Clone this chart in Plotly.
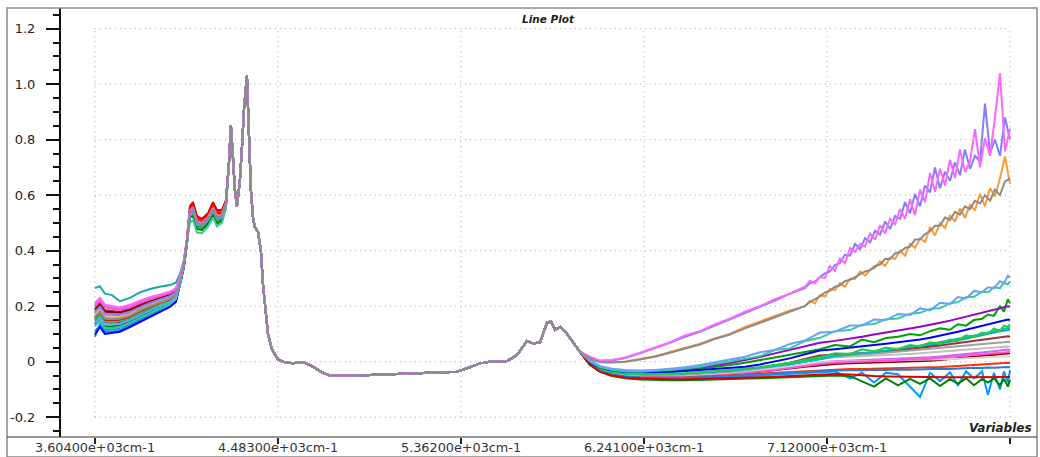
import plotly.graph_objects as go

# ---------------- data ----------------
# wavenumber grid, cm-1
wn_left = [3604, 3628, 3652, 3686, 3724, 3772, 3820, 3868, 3916, 3964, 3993, 4012,
           4031, 4046, 4060, 4075, 4094, 4118, 4147, 4171, 4190, 4214, 4233]
wn_mid = [4248, 4257, 4267, 4276, 4286, 4300, 4310, 4320, 4334, 4344, 4353, 4363,
          4372, 4387, 4401, 4411, 4421, 4435, 4454, 4483, 4517, 4555, 4603, 4651,
          4699, 4733, 4862, 5021, 5179, 5343, 5405, 5453, 5501, 5583, 5631, 5679,
          5708, 5742, 5775, 5794, 5814, 5838, 5862, 5895, 5934]
wn_right = [5982, 6030, 6087, 6150, 6222, 6294, 6366, 6438, 6510, 6582, 6654, 6726,
            6798, 6870, 6942, 7014, 7086, 7158, 7231, 7288, 7346, 7403, 7461, 7519,
            7567, 7615, 7663, 7711, 7749, 7788, 7826, 7865, 7893, 7922, 7951, 7970,
            7989, 7999]
# finer grid used for the four very noisy spectra at the high end
wn_right_fine = [5982, 6030, 6087, 6150, 6222, 6294, 6366, 6438, 6510, 6582, 6654, 6726,
                 6798, 6870, 6942,
                 7014, 7038, 7062, 7086, 7110, 7134, 7158, 7182, 7206, 7231, 7255, 7279,
                 7303, 7327, 7351, 7375, 7399, 7423, 7447, 7471, 7495, 7519, 7543, 7567,
                 7591, 7615, 7639, 7663, 7687, 7711, 7735, 7759, 7783, 7807, 7831, 7855,
                 7879, 7903, 7927, 7951, 7975, 7999]

# section where all spectra overlap
mid_common = [0.72, 0.853, 0.74, 0.62, 0.56, 0.65, 0.77, 0.91, 1.03, 0.82, 0.62, 0.52,
              0.485, 0.468, 0.40, 0.28, 0.21, 0.10, 0.045, 0.008, -0.003, -0.006, -0.001, -0.018,
              -0.04, -0.05, -0.05, -0.045, -0.04, -0.036, -0.02, -0.006, 0.0, 0.002, 0.024, 0.075,
              0.066, 0.07, 0.14, 0.145, 0.115, 0.125, 0.11, 0.075, 0.035]

teal_left = [0.265, 0.272, 0.245, 0.240, 0.218, 0.230, 0.250, 0.262, 0.270, 0.276, 0.285, 0.315, 0.365, 0.440, 0.540, 0.552, 0.502, 0.497, 0.515, 0.552, 0.522, 0.527, 0.572]
teal_right = [-0.005, -0.028, -0.04, -0.045, -0.047, -0.047, -0.046, -0.044, -0.041, -0.038, -0.035, -0.03, -0.025, -0.018, -0.01, 0.0, 0.01, 0.018, 0.022, 0.026, 0.03, 0.035, 0.04, 0.046, 0.052, 0.058, 0.064, 0.07, 0.077, 0.083, 0.09, 0.096, 0.1, 0.105, 0.11, 0.112, 0.116, 0.115]

violet_left = [0.205, 0.225, 0.200, 0.195, 0.190, 0.200, 0.215, 0.228, 0.240, 0.250, 0.262, 0.300, 0.360, 0.440, 0.540, 0.552, 0.500, 0.495, 0.515, 0.550, 0.520, 0.525, 0.570]
violet_right = [-0.008, -0.032, -0.045, -0.051, -0.054, -0.055, -0.055, -0.054, -0.052, -0.049, -0.045, -0.04, -0.034, -0.027, -0.019, -0.01, -0.002, 0.002, 0.004, 0.006, 0.008, 0.009, 0.011, 0.012, 0.013, 0.016, 0.019, 0.022, 0.025, 0.028, 0.031, 0.034, 0.036, 0.038, 0.04, 0.042, 0.044, 0.042]

brown_left = [0.190, 0.212, 0.185, 0.182, 0.180, 0.190, 0.207, 0.220, 0.232, 0.243, 0.255, 0.298, 0.358, 0.438, 0.542, 0.560, 0.512, 0.505, 0.525, 0.562, 0.532, 0.535, 0.575]
brown_right = [-0.006, -0.03, -0.042, -0.047, -0.05, -0.05, -0.049, -0.047, -0.044, -0.04, -0.035, -0.03, -0.022, -0.014, -0.004, 0.01, 0.022, 0.026, 0.028, 0.03, 0.033, 0.037, 0.041, 0.046, 0.05, 0.054, 0.058, 0.063, 0.067, 0.071, 0.075, 0.079, 0.082, 0.085, 0.088, 0.09, 0.092, 0.09]

darkred_left = [0.185, 0.205, 0.180, 0.178, 0.176, 0.186, 0.202, 0.216, 0.228, 0.240, 0.252, 0.296, 0.356, 0.438, 0.545, 0.565, 0.518, 0.510, 0.528, 0.565, 0.538, 0.540, 0.577]
darkred_right = [-0.009, -0.033, -0.046, -0.053, -0.056, -0.057, -0.057, -0.056, -0.054, -0.051, -0.047, -0.042, -0.037, -0.031, -0.025, -0.018, -0.012, -0.008, -0.006, -0.005, -0.004, -0.003, -0.002, -0.001, 0.0, 0.003, 0.006, 0.009, 0.012, 0.015, 0.018, 0.021, 0.023, 0.025, 0.027, 0.029, 0.031, 0.03]

green_left = [0.175, 0.195, 0.170, 0.168, 0.168, 0.176, 0.194, 0.208, 0.220, 0.232, 0.247, 0.292, 0.353, 0.435, 0.535, 0.540, 0.490, 0.485, 0.505, 0.540, 0.510, 0.515, 0.565]
green_right = [-0.005, -0.025, -0.035, -0.04, -0.042, -0.04, -0.036, -0.032, -0.026, -0.02, -0.012, -0.004, 0.005, 0.015, 0.025, 0.035, 0.045, 0.06, 0.055, 0.08, 0.07, 0.085, 0.09, 0.1, 0.095, 0.11, 0.12, 0.115, 0.135, 0.13, 0.15, 0.155, 0.17, 0.165, 0.2, 0.18, 0.225, 0.21]

ltgray_left = [0.170, 0.190, 0.165, 0.163, 0.163, 0.172, 0.190, 0.205, 0.218, 0.230, 0.245, 0.290, 0.352, 0.435, 0.540, 0.550, 0.500, 0.495, 0.515, 0.550, 0.520, 0.525, 0.570]
ltgray_right = [-0.007, -0.031, -0.044, -0.05, -0.052, -0.053, -0.052, -0.05, -0.047, -0.043, -0.038, -0.032, -0.025, -0.017, -0.008, 0.003, 0.012, 0.016, 0.018, 0.02, 0.022, 0.024, 0.026, 0.028, 0.03, 0.033, 0.036, 0.039, 0.041, 0.043, 0.045, 0.047, 0.049, 0.05, 0.052, 0.053, 0.055, 0.053]

gray2_left = [0.175, 0.196, 0.17, 0.168, 0.167, 0.177, 0.195, 0.21, 0.222, 0.234, 0.248, 0.293, 0.354, 0.436, 0.54, 0.55, 0.5, 0.495, 0.515, 0.55, 0.52, 0.525, 0.57]
gray2_right = [-0.007, -0.031, -0.043, -0.049, -0.051, -0.051, -0.05, -0.048, -0.045, -0.041, -0.036, -0.031, -0.024, -0.016, -0.007, 0.004, 0.015, 0.02, 0.024, 0.027, 0.029, 0.033, 0.035, 0.04, 0.042, 0.046, 0.049, 0.053, 0.055, 0.058, 0.06, 0.063, 0.065, 0.067, 0.069, 0.07, 0.072, 0.07]

gray3_left = [0.168, 0.188, 0.163, 0.161, 0.162, 0.171, 0.189, 0.204, 0.217, 0.229, 0.244, 0.29, 0.352, 0.435, 0.54, 0.55, 0.5, 0.495, 0.515, 0.55, 0.52, 0.525, 0.57]
gray3_right = [-0.008, -0.032, -0.045, -0.05, -0.053, -0.054, -0.054, -0.053, -0.051, -0.048, -0.044, -0.039, -0.033, -0.026, -0.018, -0.009, -0.002, 0.0, 0.001, 0.002, 0.003, 0.004, 0.005, 0.006, 0.007, 0.008, 0.009, 0.01, 0.011, 0.012, 0.013, 0.015, 0.016, 0.017, 0.018, 0.019, 0.02, 0.019]

pink2_left = [0.2, 0.22, 0.195, 0.19, 0.186, 0.196, 0.212, 0.225, 0.237, 0.247, 0.26, 0.3, 0.36, 0.44, 0.542, 0.555, 0.505, 0.5, 0.518, 0.553, 0.523, 0.528, 0.572]
pink2_right = [-0.009, -0.033, -0.046, -0.052, -0.055, -0.056, -0.056, -0.055, -0.053, -0.05, -0.046, -0.041, -0.036, -0.03, -0.023, -0.015, -0.008, -0.004, -0.002, 0.0, 0.002, 0.003, 0.005, 0.007, 0.008, 0.011, 0.014, 0.017, 0.02, 0.022, 0.025, 0.027, 0.029, 0.031, 0.033, 0.034, 0.036, 0.035]

redorange_left = [0.155, 0.172, 0.148, 0.147, 0.150, 0.160, 0.178, 0.195, 0.209, 0.222, 0.238, 0.286, 0.350, 0.436, 0.552, 0.568, 0.518, 0.510, 0.530, 0.568, 0.540, 0.542, 0.578]
redorange_right = [-0.01, -0.034, -0.047, -0.054, -0.057, -0.058, -0.058, -0.057, -0.055, -0.053, -0.05, -0.047, -0.043, -0.04, -0.037, -0.033, -0.03, -0.027, -0.026, -0.026, -0.025, -0.025, -0.024, -0.024, -0.023, -0.021, -0.019, -0.017, -0.015, -0.013, -0.011, -0.009, -0.008, -0.007, -0.006, -0.005, -0.004, -0.005]

steel_left = [0.11, 0.13, 0.108, 0.108, 0.114, 0.13, 0.148, 0.166, 0.184, 0.2, 0.218, 0.274, 0.341, 0.427, 0.535, 0.548, 0.5, 0.495, 0.515, 0.55, 0.52, 0.525, 0.57]
steel_right = [-0.01, -0.034, -0.047, -0.054, -0.057, -0.058, -0.058, -0.058, -0.056, -0.054, -0.052, -0.049, -0.046, -0.043, -0.04, -0.037, -0.034, -0.031, -0.03, -0.031, -0.029, -0.03, -0.028, -0.029, -0.027, -0.027, -0.025, -0.026, -0.024, -0.024, -0.022, -0.023, -0.021, -0.022, -0.02, -0.021, -0.019, -0.02]

purple_left = [0.148, 0.165, 0.142, 0.140, 0.143, 0.155, 0.173, 0.190, 0.205, 0.218, 0.235, 0.284, 0.348, 0.432, 0.540, 0.552, 0.505, 0.500, 0.518, 0.552, 0.524, 0.528, 0.572]
purple_right = [0.0, -0.02, -0.03, -0.034, -0.035, -0.033, -0.03, -0.026, -0.02, -0.013, -0.005, 0.005, 0.017, 0.03, 0.043, 0.056, 0.068, 0.075, 0.082, 0.09, 0.098, 0.106, 0.113, 0.12, 0.126, 0.132, 0.14, 0.148, 0.155, 0.162, 0.17, 0.176, 0.182, 0.188, 0.192, 0.196, 0.2, 0.198]

cyan_left = [0.13, 0.15, 0.127, 0.125, 0.13, 0.143, 0.16, 0.178, 0.194, 0.208, 0.226, 0.279, 0.345, 0.43, 0.538, 0.55, 0.5, 0.494, 0.514, 0.55, 0.52, 0.525, 0.57]
cyan_right = [-0.004, -0.027, -0.039, -0.044, -0.046, -0.046, -0.045, -0.043, -0.04, -0.036, -0.033, -0.028, -0.023, -0.016, -0.008, 0.002, 0.012, 0.02, 0.026, 0.03, 0.036, 0.04, 0.047, 0.052, 0.058, 0.064, 0.07, 0.076, 0.082, 0.088, 0.094, 0.1, 0.104, 0.11, 0.114, 0.118, 0.122, 0.12]

lime_left = [0.15, 0.168, 0.145, 0.143, 0.146, 0.157, 0.175, 0.192, 0.206, 0.22, 0.236, 0.285, 0.348, 0.432, 0.52, 0.53, 0.482, 0.478, 0.5, 0.535, 0.5, 0.51, 0.558]
lime_right = [-0.004, -0.026, -0.038, -0.043, -0.045, -0.045, -0.044, -0.042, -0.038, -0.034, -0.03, -0.025, -0.019, -0.012, -0.004, 0.006, 0.016, 0.03, 0.028, 0.045, 0.038, 0.05, 0.046, 0.06, 0.055, 0.07, 0.066, 0.08, 0.075, 0.095, 0.088, 0.105, 0.1, 0.12, 0.11, 0.13, 0.125, 0.135]

skyblue_left = [0.090, 0.135, 0.115, 0.115, 0.122, 0.136, 0.154, 0.172, 0.189, 0.204, 0.222, 0.276, 0.342, 0.428, 0.530, 0.545, 0.498, 0.492, 0.512, 0.548, 0.518, 0.523, 0.568]
skyblue_right = [-0.01, -0.035, -0.048, -0.055, -0.058, -0.06, -0.062, -0.06, -0.066, -0.058, -0.055, -0.052, -0.05, -0.047, -0.045, -0.042, -0.038, -0.035, -0.06, -0.04, -0.075, -0.04, -0.045, -0.09, -0.127, -0.04, -0.07, -0.038, -0.085, -0.035, -0.06, -0.035, -0.12, -0.04, -0.1, -0.035, -0.075, -0.03]

darkgreen_left = [0.135, 0.152, 0.128, 0.127, 0.132, 0.145, 0.163, 0.180, 0.196, 0.210, 0.228, 0.280, 0.345, 0.430, 0.520, 0.525, 0.478, 0.475, 0.497, 0.530, 0.497, 0.508, 0.556]
darkgreen_right = [-0.012, -0.037, -0.052, -0.06, -0.064, -0.066, -0.067, -0.067, -0.066, -0.065, -0.064, -0.062, -0.06, -0.058, -0.056, -0.055, -0.053, -0.05, -0.052, -0.07, -0.09, -0.06, -0.085, -0.062, -0.08, -0.06, -0.088, -0.062, -0.08, -0.06, -0.085, -0.062, -0.075, -0.06, -0.085, -0.062, -0.09, -0.065]

crimson_left = [0.158, 0.178, 0.152, 0.150, 0.152, 0.163, 0.182, 0.198, 0.212, 0.225, 0.240, 0.288, 0.352, 0.440, 0.560, 0.575, 0.525, 0.515, 0.535, 0.575, 0.547, 0.547, 0.580]
crimson_right = [-0.011, -0.036, -0.05, -0.057, -0.06, -0.062, -0.063, -0.063, -0.062, -0.061, -0.06, -0.058, -0.056, -0.054, -0.052, -0.05, -0.048, -0.044, -0.046, -0.05, -0.052, -0.053, -0.054, -0.055, -0.055, -0.056, -0.056, -0.056, -0.056, -0.056, -0.056, -0.056, -0.055, -0.055, -0.055, -0.055, -0.056, -0.055]

blue_left = [0.098, 0.125, 0.100, 0.103, 0.108, 0.125, 0.143, 0.160, 0.178, 0.197, 0.215, 0.272, 0.340, 0.426, 0.535, 0.548, 0.500, 0.495, 0.515, 0.550, 0.520, 0.525, 0.570]
blue_right = [-0.003, -0.022, -0.032, -0.036, -0.037, -0.037, -0.036, -0.034, -0.03, -0.026, -0.022, -0.018, -0.01, 0.0, 0.012, 0.027, 0.04, 0.045, 0.05, 0.055, 0.06, 0.065, 0.07, 0.075, 0.08, 0.086, 0.093, 0.1, 0.108, 0.115, 0.122, 0.128, 0.134, 0.139, 0.144, 0.147, 0.152, 0.15]

aqua_left = [0.128, 0.148, 0.122, 0.120, 0.126, 0.140, 0.158, 0.176, 0.192, 0.207, 0.225, 0.278, 0.344, 0.428, 0.500, 0.510, 0.465, 0.463, 0.487, 0.520, 0.487, 0.500, 0.550]
aqua_right = [0.0, -0.02, -0.03, -0.035, -0.036, -0.034, -0.03, -0.025, -0.018, -0.008, 0.002, 0.012, 0.02, 0.042, 0.048, 0.074, 0.086, 0.11, 0.114, 0.133, 0.136, 0.153, 0.156, 0.173, 0.176, 0.19, 0.193, 0.21, 0.215, 0.232, 0.234, 0.252, 0.25, 0.268, 0.265, 0.285, 0.278, 0.29]

ltblue_left = [0.140, 0.158, 0.135, 0.133, 0.137, 0.150, 0.168, 0.185, 0.200, 0.214, 0.232, 0.282, 0.346, 0.430, 0.535, 0.545, 0.495, 0.490, 0.510, 0.545, 0.515, 0.520, 0.566]
ltblue_right = [0.005, -0.015, -0.025, -0.03, -0.032, -0.03, -0.025, -0.02, -0.012, -0.002, 0.008, 0.018, 0.034, 0.042, 0.064, 0.076, 0.105, 0.108, 0.13, 0.13, 0.152, 0.15, 0.172, 0.168, 0.192, 0.185, 0.212, 0.208, 0.233, 0.228, 0.255, 0.25, 0.268, 0.265, 0.29, 0.282, 0.31, 0.305]

# four spectra that rise strongly (on the finer grid)
orange_left = [0.165, 0.185, 0.160, 0.158, 0.160, 0.170, 0.188, 0.203, 0.216, 0.228, 0.243, 0.290, 0.352, 0.434, 0.540, 0.555, 0.505, 0.500, 0.520, 0.555, 0.525, 0.530, 0.572]
orange_right = [0.012, 0.0, -0.002, 0.0, 0.01, 0.02, 0.035, 0.05, 0.065, 0.085, 0.1, 0.125, 0.145, 0.165, 0.185,
                0.2, 0.22, 0.21, 0.24, 0.235, 0.262, 0.258, 0.283, 0.27, 0.30, 0.298, 0.325, 0.31, 0.33,
                0.338, 0.362, 0.345, 0.375, 0.37, 0.40, 0.382, 0.425, 0.41, 0.445, 0.432, 0.485, 0.455, 0.50,
                0.482, 0.528, 0.505, 0.553, 0.518, 0.565, 0.545, 0.605, 0.56, 0.625, 0.595, 0.66, 0.74, 0.64]

lavender_left = [0.180, 0.198, 0.172, 0.170, 0.170, 0.180, 0.197, 0.212, 0.224, 0.236, 0.250, 0.295, 0.355, 0.436, 0.540, 0.550, 0.500, 0.492, 0.512, 0.548, 0.518, 0.522, 0.568]
lavender_right = [0.016, 0.002, 0.004, 0.013, 0.03, 0.048, 0.068, 0.09, 0.108, 0.13, 0.152, 0.176, 0.198, 0.22, 0.245,
                  0.265, 0.283, 0.288, 0.305, 0.318, 0.325, 0.348, 0.355, 0.385, 0.382, 0.425, 0.405, 0.445, 0.43,
                  0.472, 0.458, 0.505, 0.478, 0.525, 0.515, 0.575, 0.535, 0.605, 0.56, 0.635, 0.61, 0.70, 0.625,
                  0.685, 0.652, 0.718, 0.672, 0.765, 0.695, 0.742, 0.72, 0.93, 0.752, 0.80, 0.742, 0.88, 0.80]

pink_left = [0.212, 0.230, 0.205, 0.200, 0.195, 0.205, 0.220, 0.232, 0.243, 0.252, 0.265, 0.305, 0.362, 0.442, 0.545, 0.555, 0.505, 0.498, 0.518, 0.553, 0.524, 0.528, 0.573]
pink_right = [0.018, 0.004, 0.006, 0.015, 0.032, 0.05, 0.07, 0.095, 0.11, 0.135, 0.155, 0.18, 0.2, 0.225, 0.245,
              0.27, 0.292, 0.282, 0.305, 0.302, 0.345, 0.328, 0.372, 0.355, 0.41, 0.395, 0.425, 0.415, 0.462,
              0.44, 0.492, 0.462, 0.515, 0.495, 0.55, 0.515, 0.585, 0.528, 0.62, 0.575, 0.68, 0.612, 0.695,
              0.635, 0.728, 0.662, 0.765, 0.683, 0.722, 0.838, 0.70, 0.805, 0.742, 0.88, 1.04, 0.758, 0.84]

gray_left = [0.160, 0.180, 0.155, 0.153, 0.155, 0.165, 0.184, 0.200, 0.213, 0.226, 0.241, 0.288, 0.350, 0.433, 0.540, 0.550, 0.500, 0.495, 0.515, 0.550, 0.520, 0.525, 0.570]
gray_right = [0.01, -0.002, -0.003, 0.0, 0.008, 0.018, 0.032, 0.048, 0.062, 0.082, 0.098, 0.12, 0.14, 0.16, 0.18,
              0.2, 0.215, 0.225, 0.235, 0.25, 0.255, 0.27, 0.275, 0.29, 0.295, 0.305, 0.315, 0.325, 0.33,
              0.345, 0.35, 0.37, 0.37, 0.39, 0.395, 0.41, 0.415, 0.44, 0.44, 0.46, 0.47, 0.49, 0.49,
              0.52, 0.51, 0.54, 0.53, 0.56, 0.55, 0.58, 0.57, 0.60, 0.58, 0.62, 0.60, 0.65, 0.66]

# drawing order, colours and which right-hand grid each spectrum uses
spectra = [
    ("teal", "#1aa5a8", teal_left, teal_right, wn_right),
    ("violet", "#cc66ff", violet_left, violet_right, wn_right),
    ("brown", "#993333", brown_left, brown_right, wn_right),
    ("dark red", "#8b0000", darkred_left, darkred_right, wn_right),
    ("green", "#00a000", green_left, green_right, wn_right),
    ("light gray", "#c0c0c0", ltgray_left, ltgray_right, wn_right),
    ("gray 2", "#a0a0a0", gray2_left, gray2_right, wn_right),
    ("gray 3", "#d4d4d4", gray3_left, gray3_right, wn_right),
    ("pink 2", "#ff55cc", pink2_left, pink2_right, wn_right),
    ("red orange", "#ff3300", redorange_left, redorange_right, wn_right),
    ("steel blue", "#3377dd", steel_left, steel_right, wn_right),
    ("purple", "#9900cc", purple_left, purple_right, wn_right),
    ("cyan", "#00bbcc", cyan_left, cyan_right, wn_right),
    ("lime", "#22cc44", lime_left, lime_right, wn_right),
    ("sky blue", "#0099ff", skyblue_left, skyblue_right, wn_right),
    ("dark green", "#008000", darkgreen_left, darkgreen_right, wn_right),
    ("crimson", "#e00000", crimson_left, crimson_right, wn_right),
    ("blue", "#0000ff", blue_left, blue_right, wn_right),
    ("aqua", "#33cc99", aqua_left, aqua_right, wn_right),
    ("light blue", "#66a3ff", ltblue_left, ltblue_right, wn_right),
    ("orange", "#ff9933", orange_left, orange_right, wn_right_fine),
    ("lavender", "#8080ff", lavender_left, lavender_right, wn_right_fine),
    ("pink", "#ff66ff", pink_left, pink_right, wn_right_fine),
    ("gray", "#8c8c8c", gray_left, gray_right, wn_right_fine),
]

x_tickvals = [3604, 4483, 5362, 6241, 7120, 7999]
x_ticktext = ["3.60400e+03cm-1", "4.48300e+03cm-1", "5.36200e+03cm-1",
              "6.24100e+03cm-1", "7.12000e+03cm-1", ""]
y_tickvals = [-0.2, 0, 0.2, 0.4, 0.6, 0.8, 1.0, 1.2]
y_ticktext = ["-0.2", "0", "0.2", "0.4", "0.6", "0.8", "1.0", "1.2"]

# ---------------- figure ----------------
W, H = 1040, 457
ML, MR, MT, MB = 61, 4, 8, 20
PW, PH = W - ML - MR, H - MT - MB

fig = go.Figure()
for name, color, left, right, xr in spectra:
    assert len(left) == len(wn_left) and len(right) == len(xr), name
    fig.add_trace(go.Scatter(x=wn_left + wn_mid + xr, y=left + mid_common + right,
                             mode="lines", name=name,
                             line=dict(color=color, width=2),
                             hoverinfo="skip", showlegend=False))

shapes = []
grid = dict(color="#a8a8a8", width=1, dash="1px,4px")
for xv in x_tickvals:
    shapes.append(dict(type="line", xref="x", yref="y", x0=xv, x1=xv,
                       y0=y_tickvals[0], y1=y_tickvals[-1], line=grid, layer="below"))
for yv in y_tickvals:
    shapes.append(dict(type="line", xref="x", yref="y", x0=x_tickvals[0], x1=x_tickvals[-1],
                       y0=yv, y1=yv, line=grid, layer="below"))
# outer frame
shapes.append(dict(type="rect", xref="paper", yref="paper",
                   x0=(7 - ML) / PW, x1=(1037 - ML) / PW, y0=-MB / PH, y1=1.0,
                   line=dict(color="#8a8a8a", width=1.5), layer="above"))
# x axis line spanning whole width
shapes.append(dict(type="line", xref="paper", yref="paper",
                   x0=(7 - ML) / PW, x1=(1037 - ML) / PW, y0=0, y1=0,
                   line=dict(color="#333333", width=1.2), layer="above"))

tick_font = "DejaVu Sans, Verdana, sans-serif"

annotations = [
    dict(text="<b><i>Line Plot</i></b>", xref="paper", yref="paper",
         x=(548 - ML) / PW, y=(MT + PH - 19) / PH, xanchor="center", yanchor="middle",
         showarrow=False, font=dict(size=10.5, color="#222222", family=tick_font)),
    dict(text="<b><i>Variables</i></b>", xref="paper", yref="paper",
         x=(1034 - ML) / PW, y=(MT + PH - 428) / PH, xanchor="right", yanchor="middle",
         showarrow=False, font=dict(size=12, color="#222222", family=tick_font)),
]
# x tick labels placed just below the axis (as in the reference, where they sit low)
for xv, txt in zip(x_tickvals, x_ticktext):
    if txt:
        annotations.append(dict(text=txt, xref="x", yref="paper", x=xv,
                                y=(MT + PH - 448) / PH, xanchor="center", yanchor="middle",
                                showarrow=False,
                                font=dict(size=12.8, color="#333333", family=tick_font)))

fig.update_layout(
    width=W, height=H,
    margin=dict(l=ML, r=MR, t=MT, b=MB, pad=0, autoexpand=False),
    paper_bgcolor="white", plot_bgcolor="white",
    shapes=shapes,
    font=dict(family=tick_font, color="#222222"),
    xaxis=dict(range=[3441, 8124], showgrid=False, zeroline=False, automargin=False,
               tickvals=x_tickvals, showticklabels=False,
               ticks="outside", ticklen=6, tickwidth=2, tickcolor="#222222",
               showline=False),
    yaxis=dict(range=[-0.2714, 1.2746], showgrid=False, zeroline=False, automargin=False,
               tickvals=y_tickvals, ticktext=y_ticktext,
               ticks="outside", ticklen=13, tickwidth=2, tickcolor="#111111",
               ticklabelstandoff=8,
               tickfont=dict(size=13, color="#222222", family=tick_font),
               showline=True, linewidth=2, linecolor="#111111",
               minor=dict(dtick=0.05, tick0=0, ticks="outside", ticklen=6,
                          tickwidth=2, tickcolor="#111111", showgrid=False)),
    annotations=annotations,
)

fig.write_html("out.html")
